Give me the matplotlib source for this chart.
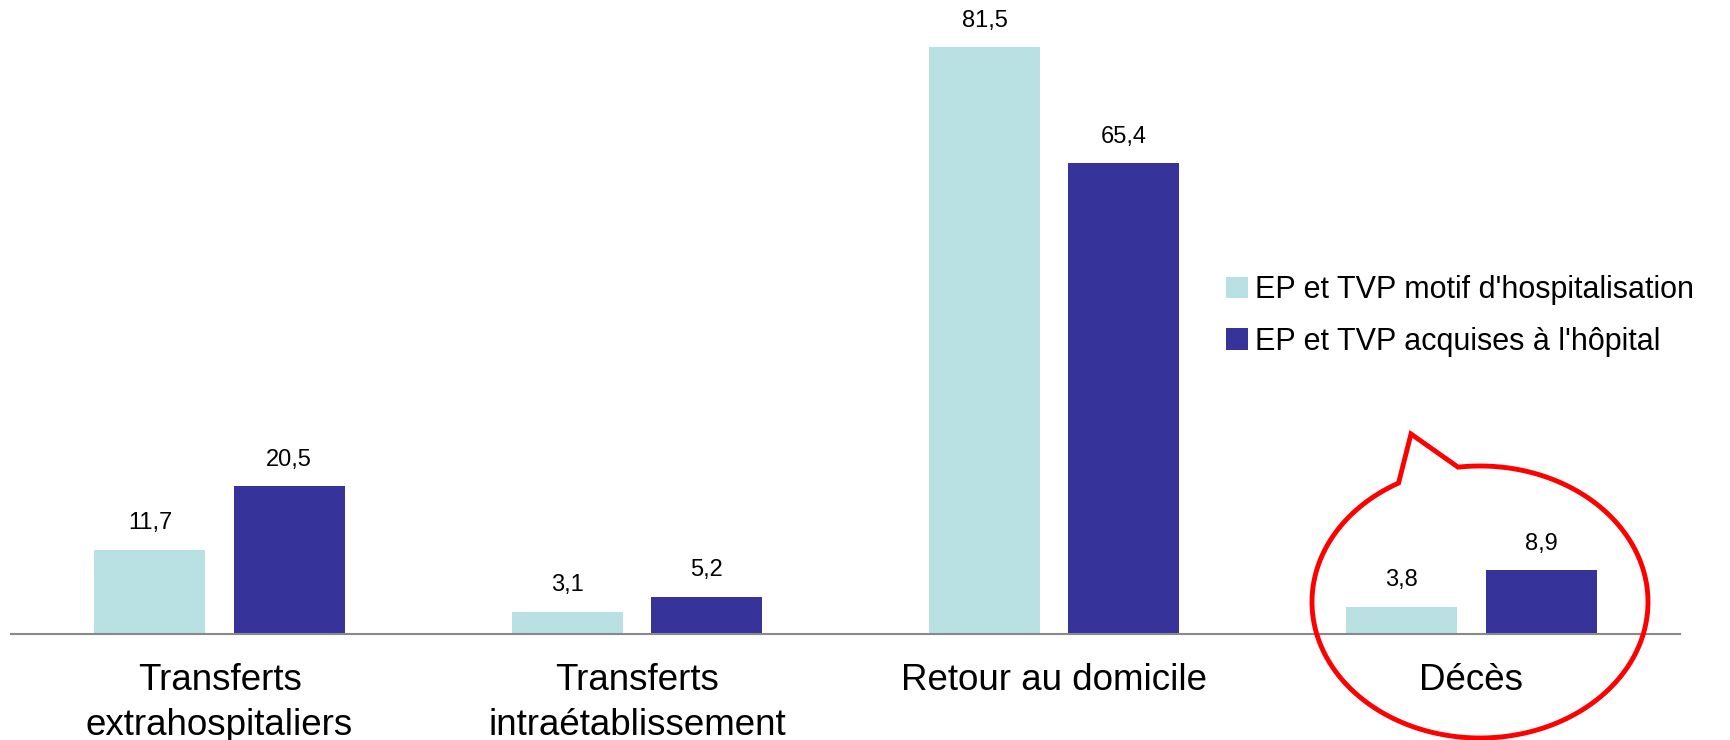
import numpy as np
import matplotlib
matplotlib.use("Agg")
import matplotlib.pyplot as plt
from matplotlib.path import Path
from matplotlib.patches import PathPatch

categories = ["Transferts\nextrahospitaliers", "Transferts\nintraétablissement",
              "Retour au domicile", "Décès"]
motif = [11.7, 3.1, 81.5, 3.8]
acquises = [20.5, 5.2, 65.4, 8.9]
series_names = ["EP et TVP motif d'hospitalisation", "EP et TVP acquises à l'hôpital"]

light = "#B9E0E3"
dark = "#36349A"

plt.rcParams["font.family"] = ["Liberation Sans", "DejaVu Sans"]

W, H = 1731, 740
fig = plt.figure(figsize=(W / 100, H / 100), dpi=100)
ax = fig.add_axes([11 / W, (H - 634) / H, (1680 - 11) / W, 634 / H])

x = np.arange(len(categories))
bw = 0.266
off = 0.167
b1 = ax.bar(x - off, motif, bw, color=light, label=series_names[0])
b2 = ax.bar(x + off, acquises, bw, color=dark, label=series_names[1])

for bars, vals in [(b1, motif), (b2, acquises)]:
    for rect, v in zip(bars, vals):
        ax.annotate(f"{v:.1f}".replace(".", ","),
                    (rect.get_x() + rect.get_width() / 2, v),
                    xytext=(0, 11), textcoords="offset points",
                    ha="center", va="bottom", fontsize=17)

ax.set_xlim(-0.5, len(categories) - 0.5)
ax.set_ylim(0, 88)
ax.set_xticks(x)
ax.set_xticklabels(categories, fontsize=26.5, linespacing=1.37)
ax.tick_params(axis="x", length=0, pad=21)
ax.set_yticks([])
for s in ["top", "right", "left"]:
    ax.spines[s].set_visible(False)
ax.spines["bottom"].set_color("#898989")
ax.spines["bottom"].set_linewidth(1.5)

leg = fig.legend(loc="upper left", bbox_to_anchor=(1211 / W, 1 - 260 / H),
                 frameon=False, fontsize=22, handlelength=0.7, handleheight=0.7,
                 handletextpad=0.25, labelspacing=0.7, borderpad=0)

# callout bubble around "Décès" (figure pixel coords, y up)
cx, cy, a, b = 1480, H - 602, 168, 136
t = np.radians(np.linspace(97.5, 119 - 360, 200))
pts = [(cx + a * np.cos(tt), cy + b * np.sin(tt)) for tt in t]
pts.append((1411, H - 434))
pts.append(pts[0])
pts = [(px / W, py / H) for px, py in pts]
codes = [Path.MOVETO] + [Path.LINETO] * (len(pts) - 2) + [Path.CLOSEPOLY]
bubble = PathPatch(Path(pts, codes), transform=fig.transFigure, fill=False,
                   edgecolor="#FF0000", linewidth=3.5, joinstyle="miter")
fig.patches.append(bubble)

fig.savefig("out.png", dpi=100)
